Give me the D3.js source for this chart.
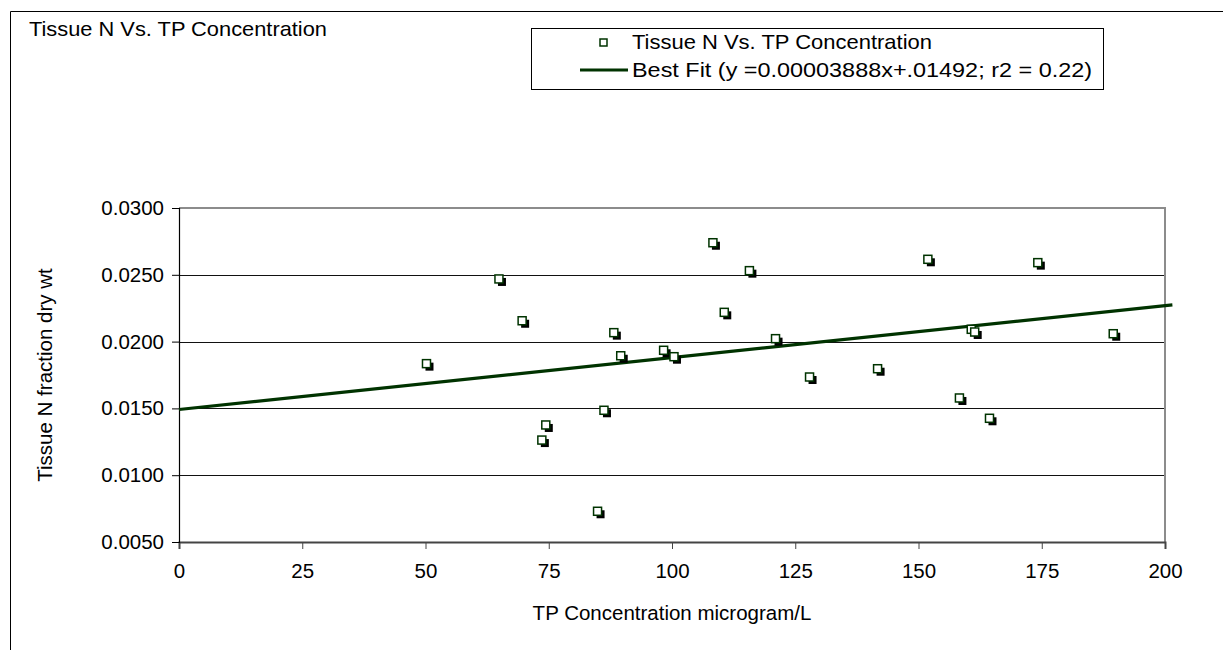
<!DOCTYPE html>
<html><head><meta charset="utf-8">
<script src="https://cdn.jsdelivr.net/npm/d3@7"></script>
<style>
html,body{margin:0;padding:0;background:#fff;}
svg{display:block;font-family:"Liberation Sans",Arial,sans-serif;}
</style></head>
<body>
<svg id="chart" width="1223" height="650"></svg>
<script>
// Data
const tpConcentration = [108.3,115.7,64.9,110.6,69.6,88.2,121.0,50.2,89.6,98.3,100.4,86.2,74.4,73.6,84.9,151.9,174.2,160.7,161.4,189.5,127.9,141.7,158.3,164.4];
const tissueN = [0.02740,0.02531,0.02469,0.02219,0.02156,0.02067,0.02022,0.01835,0.01894,0.01935,0.01887,0.01486,0.01376,0.01263,0.00730,0.02616,0.02591,0.02092,0.02072,0.02059,0.01735,0.01797,0.01578,0.01426];
const fitSlope = 0.00003888;
const fitIntercept = 0.01492;
const fitRange = [0, 201.5];
const xTicks = [0,25,50,75,100,125,150,175,200];
const yTicks = [0.005,0.010,0.015,0.020,0.025,0.030];
const chartTitle = "Tissue N Vs. TP Concentration";
const seriesName = "Tissue N Vs. TP Concentration";
const fitName = "Best Fit (y =0.00003888x+.01492; r2 = 0.22)";
const xTitle = "TP Concentration microgram/L";
const yTitle = "Tissue N fraction dry wt";

const svg = d3.select("#chart");
const green = "#003300";
const fs = 20.5;

// outer frame (clipped)
svg.append("path").attr("d","M10.5,650 V11.5 H1223").attr("fill","none").attr("stroke","#000").attr("stroke-width",1);

svg.append("text").attr("x",29).attr("y",36).attr("font-size",21)
  .attr("textLength",298).attr("lengthAdjust","spacingAndGlyphs").text(chartTitle);

const x = d3.scaleLinear().domain([0,200]).range([179,1165]);
const y = d3.scaleLinear().domain([0.005,0.030]).range([542,208]);

// gridlines
svg.append("g").selectAll("line").data(yTicks.filter(v=>v>0.005 && v<0.030)).join("line")
  .attr("x1",x(0)).attr("x2",x(200)).attr("y1",d=>Math.round(y(d))+0.5).attr("y2",d=>Math.round(y(d))+0.5)
  .attr("stroke","#111").attr("stroke-width",1);
// top & right border
svg.append("path").attr("d",`M${x(0)},${y(0.030)} H${x(200)} V${y(0.005)}`).attr("fill","none").attr("stroke","#8c8c8c").attr("stroke-width",2);

// axes
const xAxis = d3.axisBottom(x).tickValues(xTicks).tickSize(7).tickPadding(14).tickFormat(d3.format("d"));
const gx = svg.append("g").attr("transform",`translate(0,${y(0.005)})`).call(xAxis);
gx.select(".domain").attr("stroke","#444").attr("stroke-width",2);
gx.selectAll(".tick line").attr("stroke","#444");
gx.selectAll("text").attr("font-size",fs).attr("fill","#000").attr("font-family","Liberation Sans, Arial, sans-serif");

const yAxis = d3.axisLeft(y).tickValues(yTicks).tickSize(7).tickPadding(8).tickFormat(d3.format(".4f"));
const gy = svg.append("g").attr("transform",`translate(${x(0)},0)`).call(yAxis);
gy.select(".domain").attr("stroke","#000").attr("stroke-width",1.2);
gy.selectAll(".tick line").attr("stroke","#000");
gy.selectAll("text").attr("font-size",fs).attr("fill","#000").attr("font-family","Liberation Sans, Arial, sans-serif");

// axis titles
svg.append("text").attr("x",(x(0)+x(200))/2).attr("y",620).attr("text-anchor","middle").attr("font-size",fs).text(xTitle);
svg.append("text").attr("transform",`translate(52,${(y(0.005)+y(0.030))/2}) rotate(-90)`).attr("text-anchor","middle").attr("font-size",fs).text(yTitle);

// fit line
svg.append("line").attr("x1",x(fitRange[0])).attr("y1",y(fitSlope*fitRange[0]+fitIntercept))
  .attr("x2",x(fitRange[1])).attr("y2",y(fitSlope*fitRange[1]+fitIntercept))
  .attr("stroke",green).attr("stroke-width",3.2);

// points
const pts = tpConcentration.map((v,i)=>({x:v,y:tissueN[i]}));
const ms = 8;
const g = svg.append("g");
g.selectAll("rect.sh").data(pts).join("rect").attr("class","sh")
  .attr("x",d=>x(d.x)-ms/2+3).attr("y",d=>y(d.y)-ms/2+3).attr("width",ms).attr("height",ms).attr("fill","#000");
g.selectAll("rect.mk").data(pts).join("rect").attr("class","mk")
  .attr("x",d=>x(d.x)-ms/2).attr("y",d=>y(d.y)-ms/2).attr("width",ms).attr("height",ms)
  .attr("fill","#fff").attr("stroke",green).attr("stroke-width",1.5);

// legend
const lg = svg.append("g");
lg.append("rect").attr("x",531.5).attr("y",28.5).attr("width",572).attr("height",61).attr("fill","#fff").attr("stroke","#000").attr("stroke-width",1);
lg.append("rect").attr("x",600).attr("y",39).attr("width",7).attr("height",7).attr("fill","#fff").attr("stroke",green).attr("stroke-width",1.5);
lg.append("text").attr("x",632).attr("y",49).attr("font-size",21)
  .attr("textLength",300).attr("lengthAdjust","spacingAndGlyphs").text(seriesName);
lg.append("line").attr("x1",580).attr("x2",628).attr("y1",70).attr("y2",70).attr("stroke",green).attr("stroke-width",3.2);
lg.append("text").attr("x",632).attr("y",77).attr("font-size",21)
  .attr("textLength",460).attr("lengthAdjust","spacingAndGlyphs").text(fitName);
</script>
</body></html>
